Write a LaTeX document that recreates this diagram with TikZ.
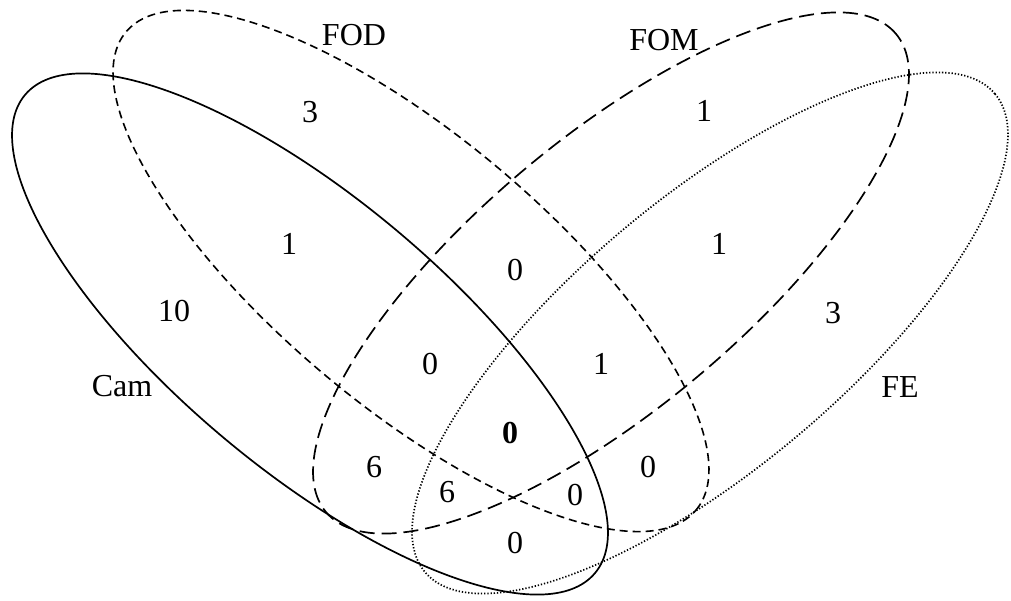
\documentclass[tikz,border=0pt]{standalone}
\usepackage{fontspec}
\setmainfont{Liberation Serif}
\begin{document}
\begin{tikzpicture}[x=1pt,y=1pt,
  lbl/.style={inner sep=0pt,font=\fontsize{32}{38}\selectfont},
  setcam/.style={line width=1.7pt},
  setfod/.style={line width=1.6pt,dash pattern=on 8pt off 5pt},
  setfom/.style={line width=1.7pt,dash pattern=on 15pt off 7pt},
  setfe/.style={line width=1.7pt,dash pattern=on 1.3pt off 1.9pt}]
\useasboundingbox (0,0) rectangle (1011,-601);
% ellipses
\draw[setcam,rotate around={-40:(310,-334)}] (310,-334) ellipse [x radius=372, y radius=135];
\draw[setfe,rotate around={40:(710,-333)}] (710,-333) ellipse [x radius=372, y radius=135];
\draw[setfod,rotate around={-40:(411,-271)}] (411,-271) ellipse [x radius=372, y radius=135];
\draw[setfom,rotate around={40:(611,-273)}] (611,-273) ellipse [x radius=372, y radius=135];
% set labels
\node[lbl] (lfod) at (354,-35) {FOD};
\node[lbl] (lfom) at (664,-40) {FOM};
\node[lbl] (lcam) at (122,-386) {Cam};
\node[lbl] (lfe) at (900,-387) {FE};
% region counts
\node[lbl] (n1) at (310,-112) {3};
\node[lbl] (n2) at (289,-244) {1};
\node[lbl] (n3) at (174,-311) {10};
\node[lbl] (n4) at (704,-111) {1};
\node[lbl] (n5) at (719,-244) {1};
\node[lbl] (n6) at (833,-313) {3};
\node[lbl] (n7) at (515,-270) {0};
\node[lbl] (n8) at (430,-364) {0};
\node[lbl] (n9) at (601,-364) {1};
\node[lbl] (n10) at (510,-433) {\textbf{0}};
\node[lbl] (n11) at (374,-467) {6};
\node[lbl] (n12) at (648,-467) {0};
\node[lbl] (n13) at (447,-492) {6};
\node[lbl] (n14) at (575,-495) {0};
\node[lbl] (n15) at (515,-543) {0};
\end{tikzpicture}
\end{document}
